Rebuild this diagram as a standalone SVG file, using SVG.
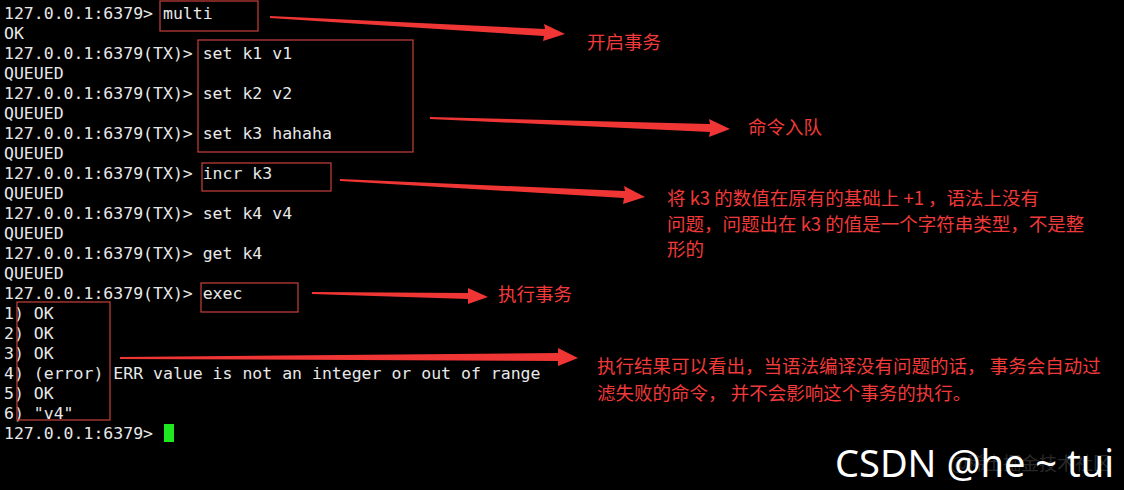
<svg xmlns="http://www.w3.org/2000/svg" width="1124" height="490" viewBox="0 0 1124 490">
<style>
.t{font-family:"DejaVu Sans Mono","Liberation Mono",monospace;font-size:16.5px;fill:#e8e8e8}
.b{fill:none;stroke:#c8403c;stroke-width:1.2}
.a{fill:#f03535}
.n{font-family:"Noto Sans CJK SC",sans-serif;font-size:18.5px;fill:#f03a3a}
</style>
<rect width="1124" height="490" fill="#000"/>
<g id="terminal">
<text class="t" x="4" y="19">127.0.0.1:6379&gt; multi</text>
<text class="t" x="4" y="39">OK</text>
<text class="t" x="4" y="59">127.0.0.1:6379(TX)&gt; set k1 v1</text>
<text class="t" x="4" y="79">QUEUED</text>
<text class="t" x="4" y="99">127.0.0.1:6379(TX)&gt; set k2 v2</text>
<text class="t" x="4" y="119">QUEUED</text>
<text class="t" x="4" y="139">127.0.0.1:6379(TX)&gt; set k3 hahaha</text>
<text class="t" x="4" y="159">QUEUED</text>
<text class="t" x="4" y="179">127.0.0.1:6379(TX)&gt; incr k3</text>
<text class="t" x="4" y="199">QUEUED</text>
<text class="t" x="4" y="219">127.0.0.1:6379(TX)&gt; set k4 v4</text>
<text class="t" x="4" y="239">QUEUED</text>
<text class="t" x="4" y="259">127.0.0.1:6379(TX)&gt; get k4</text>
<text class="t" x="4" y="279">QUEUED</text>
<text class="t" x="4" y="299">127.0.0.1:6379(TX)&gt; exec</text>
<text class="t" x="4" y="319">1) OK</text>
<text class="t" x="4" y="339">2) OK</text>
<text class="t" x="4" y="359">3) OK</text>
<text class="t" x="4" y="379">4) (error) ERR value is not an integer or out of range</text>
<text class="t" x="4" y="399">5) OK</text>
<text class="t" x="4" y="419">6) "v4"</text>
<text class="t" x="4" y="439">127.0.0.1:6379&gt;</text>
<rect x="164" y="424" width="10" height="18" fill="#1ee81e"/>
</g>
<g id="boxes">
<rect class="b" x="160" y="1" width="98" height="30"/>
<rect class="b" x="198" y="40" width="215" height="112"/>
<rect class="b" x="202" y="163" width="129" height="28"/>
<rect class="b" x="201" y="283" width="97" height="29"/>
<rect class="b" x="17" y="302" width="93" height="118"/>
</g>
<g id="connectors">
<path class="a" d="M270,16 L545,29 L544,24 L565,34 L543,41 L544,36 L270,18 Z"/>
<path class="a" d="M430,117 L710,124 L709,119 L730,129 L709,137 L710,132 L430,119 Z"/>
<path class="a" d="M340,179 L625,191 L624,186 L645,197 L623,204 L624,198 L340,181 Z"/>
<path class="a" d="M312,292 L468,293 L468,288 L488,297 L468,304 L468,299 L312,294 Z"/>
<path class="a" d="M120,357 L558,353 L558,348 L578,358 L558,366 L558,361 L120,359 Z"/>
</g>
<g id="notes">
<text class="n" x="587" y="49">开启事务</text>
<text class="n" x="748" y="134">命令入队</text>
<text class="n" x="667" y="205">将 k3 的数值在原有的基础上 +1 ，语法上没有</text>
<text class="n" x="667" y="231">问题，问题出在 k3 的值是一个字符串类型，不是整</text>
<text class="n" x="667" y="256">形的</text>
<text class="n" x="498" y="301">执行事务</text>
<text class="n" x="597" y="373">执行结果可以看出，当语法编译没有问题的话， 事务会自动过</text>
<text class="n" x="597" y="400">滤失败的命令， 并不会影响这个事务的执行。</text>
</g>
<text x="950" y="470" font-family="Noto Sans CJK SC,sans-serif" font-size="18" fill="#444" opacity="0.6">@稀土掘金技术社区</text>
<text x="835" y="477" font-family="Noto Sans,Liberation Sans,sans-serif" font-size="38" fill="#fff">CSDN @he ~ tui</text>
</svg>
